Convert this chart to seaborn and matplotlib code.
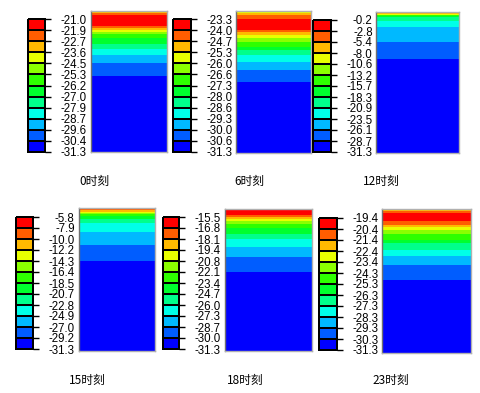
import matplotlib
matplotlib.use("Agg")
import matplotlib.pyplot as plt
import numpy as np
import seaborn as sns
from matplotlib.colors import BoundaryNorm, ListedColormap

# Abaqus-style 12-step rainbow, low -> high
BAND_COLORS = ["#0000FF", "#005DFF", "#00B9FF", "#00FFE8", "#00FF8B", "#00FF2E",
               "#2EFF00", "#8BFF00", "#E8FF00", "#FFB900", "#FF5D00", "#FF0000"]

CAPTIONS = ["0时刻", "6时刻", "12时刻", "15时刻", "18时刻", "23时刻"]

# legend levels, top -> bottom as printed
LEVELS_0 = [-21.0, -21.9, -22.7, -23.6, -24.5, -25.3, -26.2, -27.0, -27.9, -28.7, -29.6, -30.4, -31.3]
LEVELS_6 = [-23.3, -24.0, -24.7, -25.3, -26.0, -26.6, -27.3, -28.0, -28.6, -29.3, -30.0, -30.6, -31.3]
LEVELS_12 = [-0.2, -2.8, -5.4, -8.0, -10.6, -13.2, -15.7, -18.3, -20.9, -23.5, -26.1, -28.7, -31.3]
LEVELS_15 = [-5.8, -7.9, -10.0, -12.2, -14.3, -16.4, -18.5, -20.7, -22.8, -24.9, -27.0, -29.2, -31.3]
LEVELS_18 = [-15.5, -16.8, -18.1, -19.4, -20.8, -22.1, -23.4, -24.7, -26.0, -27.3, -28.7, -30.0, -31.3]
LEVELS_23 = [-19.4, -20.4, -21.4, -22.4, -23.4, -24.3, -25.3, -26.3, -27.3, -28.3, -29.3, -30.3, -31.3]

# temperature profiles: depth (% of block height from the surface) and value
DEPTH_0 = [0, 0.4, 0.9, 1.6, 2.9, 6.6, 10.8, 12.2, 13.2, 14.7, 16.5, 19.0, 23.1, 27.1, 31.4, 36.8, 46.2, 100]
TEMP_0 = [-24.9, -24.5, -23.6, -22.7, -21.9, -21.0, -21.9, -22.7, -23.6, -24.5, -25.3, -26.2,
          -27.0, -27.9, -28.7, -29.6, -30.4, -31.3]
DEPTH_6 = [0, 0.7, 1.4, 2.5, 5.6, 9.2, 13.7, 15.1, 16.9, 18.7, 21.5, 25.0, 27.8, 31.3, 35.7, 41.5, 49.8, 100]
TEMP_6 = [-26.3, -26.0, -25.3, -24.7, -24.0, -23.3, -24.0, -24.7, -25.3, -26.0, -26.6, -27.3,
          -28.0, -28.6, -29.3, -30.0, -30.6, -31.3]
DEPTH_12 = [0, 0.42, 0.85, 1.35, 1.84, 2.4, 3.0, 3.75, 6.6, 10.6, 21.4, 33.5, 100]
TEMP_12 = [-0.2, -2.8, -5.4, -8.0, -10.6, -13.2, -15.7, -18.3, -20.9, -23.5, -26.1, -28.7, -31.3]
DEPTH_15 = [0, 0.84, 1.7, 2.6, 3.5, 4.5, 5.8, 7.5, 10.7, 17.0, 25.9, 37.2, 100]
TEMP_15 = [-5.8, -7.9, -10.0, -12.2, -14.3, -16.4, -18.5, -20.7, -22.8, -24.9, -27.0, -29.2, -31.3]
DEPTH_18 = [0, 4.3, 5.7, 7.1, 8.5, 10.3, 13.5, 17.4, 21.3, 26.8, 33.9, 44.3, 100]
TEMP_18 = [-15.5, -16.8, -18.1, -19.4, -20.8, -22.1, -23.4, -24.7, -26.0, -27.3, -28.7, -30.0, -31.3]
DEPTH_23 = [0, 0.7, 1.4, 2.5, 5.4, 8.6, 10.8, 12.4, 14.3, 17.1, 21.2, 23.7, 28.2, 32.6, 39.0, 49.5, 100]
TEMP_23 = [-22.9, -22.4, -21.4, -20.4, -19.4, -20.4, -21.4, -22.4, -23.4, -24.3, -25.3, -26.3,
           -27.3, -28.3, -29.3, -30.3, -31.3]

W, H = 480, 393

# pixel boxes: legend (x0, y0, x1, y1), block, caption centre
PANELS = [
    dict(levels=LEVELS_0, depth=DEPTH_0, temp=TEMP_0, cbar=(28, 19, 45, 152), block=(91, 11, 167, 152), cap=(94.5, 181)),
    dict(levels=LEVELS_6, depth=DEPTH_6, temp=TEMP_6, cbar=(173, 19, 191, 152), block=(236, 11, 311, 153), cap=(249, 181)),
    dict(levels=LEVELS_12, depth=DEPTH_12, temp=TEMP_12, cbar=(313, 20, 331, 152), block=(376, 12, 459, 153), cap=(381, 181)),
    dict(levels=LEVELS_15, depth=DEPTH_15, temp=TEMP_15, cbar=(16, 217, 33, 349), block=(79, 208, 155, 351), cap=(87, 380)),
    dict(levels=LEVELS_18, depth=DEPTH_18, temp=TEMP_18, cbar=(163, 217, 179, 349), block=(225, 209, 312, 351), cap=(245, 380)),
    dict(levels=LEVELS_23, depth=DEPTH_23, temp=TEMP_23, cbar=(319, 218, 337, 350), block=(382, 209, 471, 353), cap=(391, 380)),
]


def px_rect(box):
    x0, y0, x1, y1 = box
    return [x0 / W, 1 - y1 / H, (x1 - x0) / W, (y1 - y0) / H]


sns.set_theme(style="white")
plt.rcParams["font.family"] = ["Liberation Sans", "DejaVu Sans"]

fig = plt.figure(figsize=(W / 100, H / 100), dpi=100)
cmap = ListedColormap(BAND_COLORS)

for p, cap in zip(PANELS, CAPTIONS):
    levels_up = np.array(p["levels"][::-1])
    norm = BoundaryNorm(levels_up, cmap.N)

    # legend drawn as a one-column heatmap of the interval midpoints
    mids = (levels_up[:-1] + levels_up[1:]) / 2
    cax = fig.add_axes(px_rect(p["cbar"]))
    sns.heatmap(mids[::-1, None], ax=cax, cmap=cmap, norm=norm, cbar=False,
                linewidths=1.2, linecolor="black", xticklabels=False, yticklabels=False)
    cax.collections[0].set_clip_on(False)
    cax.set_yticks(np.arange(len(p["levels"])))
    cax.set_yticklabels([f"{v:.1f}" for v in p["levels"]], rotation=0, ha="right")
    cax.yaxis.tick_right()
    cax.tick_params(axis="y", right=True, left=False, length=4, width=1, color="black",
                    pad=26, labelsize=8.3, labelcolor="black")

    # temperature block
    ax = fig.add_axes(px_rect(p["block"]))
    depth = np.array(p["depth"])
    temp = np.array(p["temp"])
    ax.contourf([0, 1], depth, np.column_stack([temp, temp]), levels=levels_up,
                colors=BAND_COLORS, antialiased=False)
    ax.set_xlim(0, 1)
    ax.set_ylim(100, 0)
    ax.set_xticks([])
    ax.set_yticks([])
    for side, spine in ax.spines.items():
        spine.set_visible(True)
        spine.set_linewidth(1)
        spine.set_color("#707070" if side == "left" else "#b0b0b0")

    cx, cy = p["cap"]
    fig.text(cx / W, 1 - cy / H, cap, ha="center", va="center", fontsize=8.5,
             family=["Noto Sans CJK SC", "DejaVu Sans"], color="black")

fig.savefig("out.png", dpi=100)
